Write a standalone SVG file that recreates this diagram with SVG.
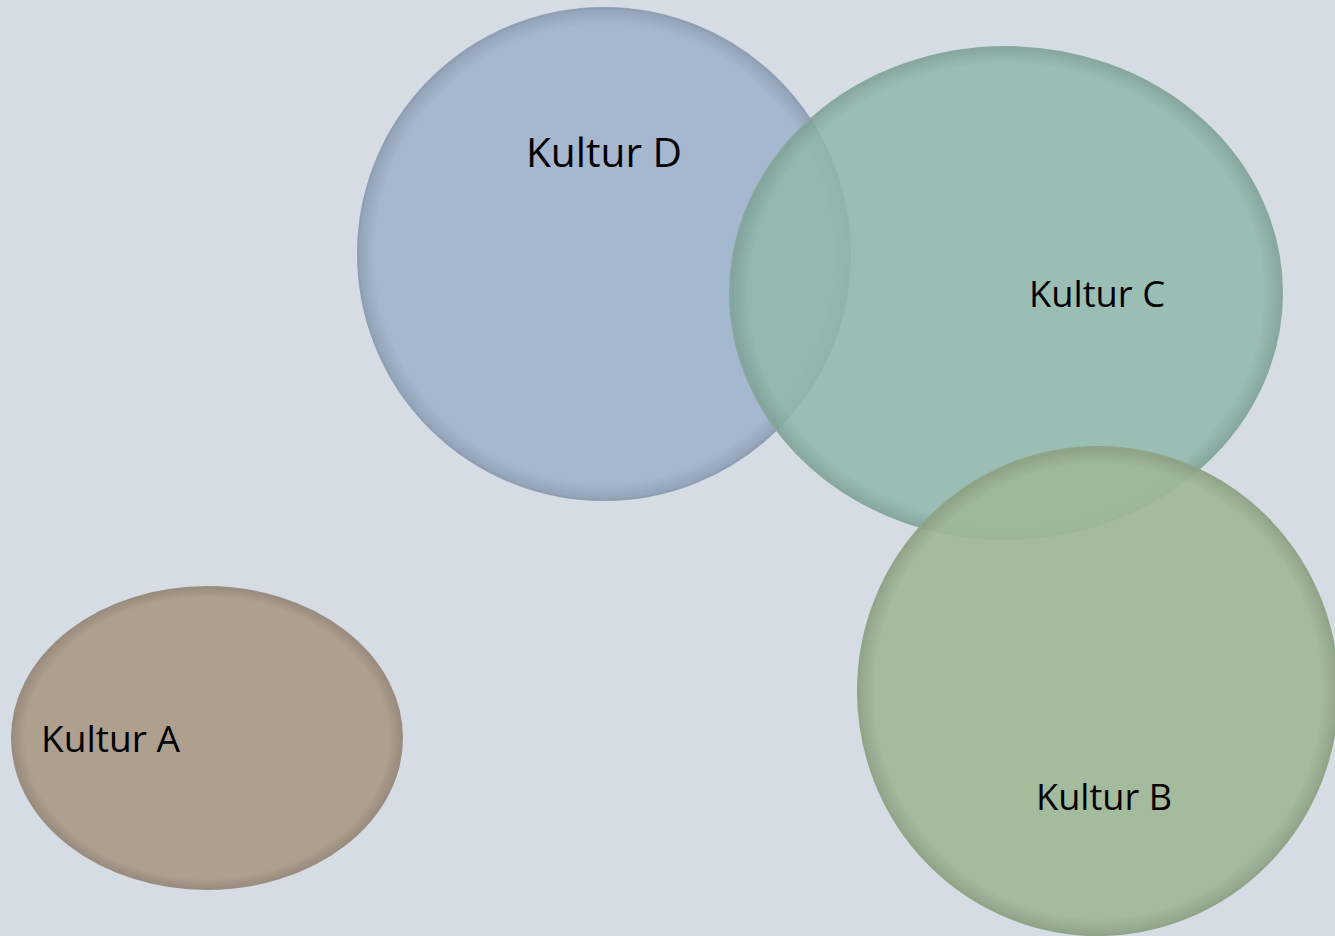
<svg xmlns="http://www.w3.org/2000/svg" width="1335" height="936" viewBox="0 0 1335 936">
<style>
.lbl{font-family:"Open Sans","Liberation Sans",sans-serif;fill:#000;}
.rim{fill:none;stroke-width:2;}
</style>
<defs>
<radialGradient id="shade" cx="0.5" cy="0.5" r="0.5">
<stop offset="0.93" stop-color="#000" stop-opacity="0"/>
<stop offset="1" stop-color="#000" stop-opacity="0.12"/>
</radialGradient>
</defs>
<rect width="1335" height="936" fill="#d5dce4"/>
<g id="nodeD">
<ellipse cx="604" cy="254" rx="246" ry="246" fill="#a6b8cf"/>
<ellipse cx="604" cy="254" rx="246" ry="246" fill="url(#shade)"/>
<ellipse class="rim" cx="604" cy="254" rx="246" ry="246" stroke="#8e9fb3"/>
<text class="lbl" x="604" y="167" font-size="40" text-anchor="middle" textLength="156" lengthAdjust="spacingAndGlyphs">Kultur D</text>
</g>
<g id="nodeC">
<ellipse cx="1006" cy="293" rx="276" ry="246" fill="#8fb8ab" fill-opacity="0.85"/>
<ellipse cx="1006" cy="293" rx="276" ry="246" fill="url(#shade)"/>
<ellipse class="rim" cx="1006" cy="293" rx="276" ry="246" stroke="#86a89d"/>
<text class="lbl" x="1097" y="307" font-size="36" text-anchor="middle" textLength="136" lengthAdjust="spacingAndGlyphs">Kultur C</text>
</g>
<g id="nodeB">
<ellipse cx="1098" cy="691" rx="240" ry="244" fill="#9fb797" fill-opacity="0.92"/>
<ellipse cx="1098" cy="691" rx="240" ry="244" fill="url(#shade)"/>
<ellipse class="rim" cx="1098" cy="691" rx="240" ry="244" stroke="#8ea587"/>
<text class="lbl" x="1104" y="810" font-size="36" text-anchor="middle" textLength="136" lengthAdjust="spacingAndGlyphs">Kultur B</text>
</g>
<g id="nodeA">
<ellipse cx="207" cy="738" rx="195" ry="151" fill="#ae9f8f"/>
<ellipse cx="207" cy="738" rx="195" ry="151" fill="url(#shade)"/>
<ellipse class="rim" cx="207" cy="738" rx="195" ry="151" stroke="#9a8c7e"/>
<text class="lbl" x="41" y="752" font-size="36" textLength="139" lengthAdjust="spacingAndGlyphs">Kultur A</text>
</g>
<g id="connectors"/>
</svg>
